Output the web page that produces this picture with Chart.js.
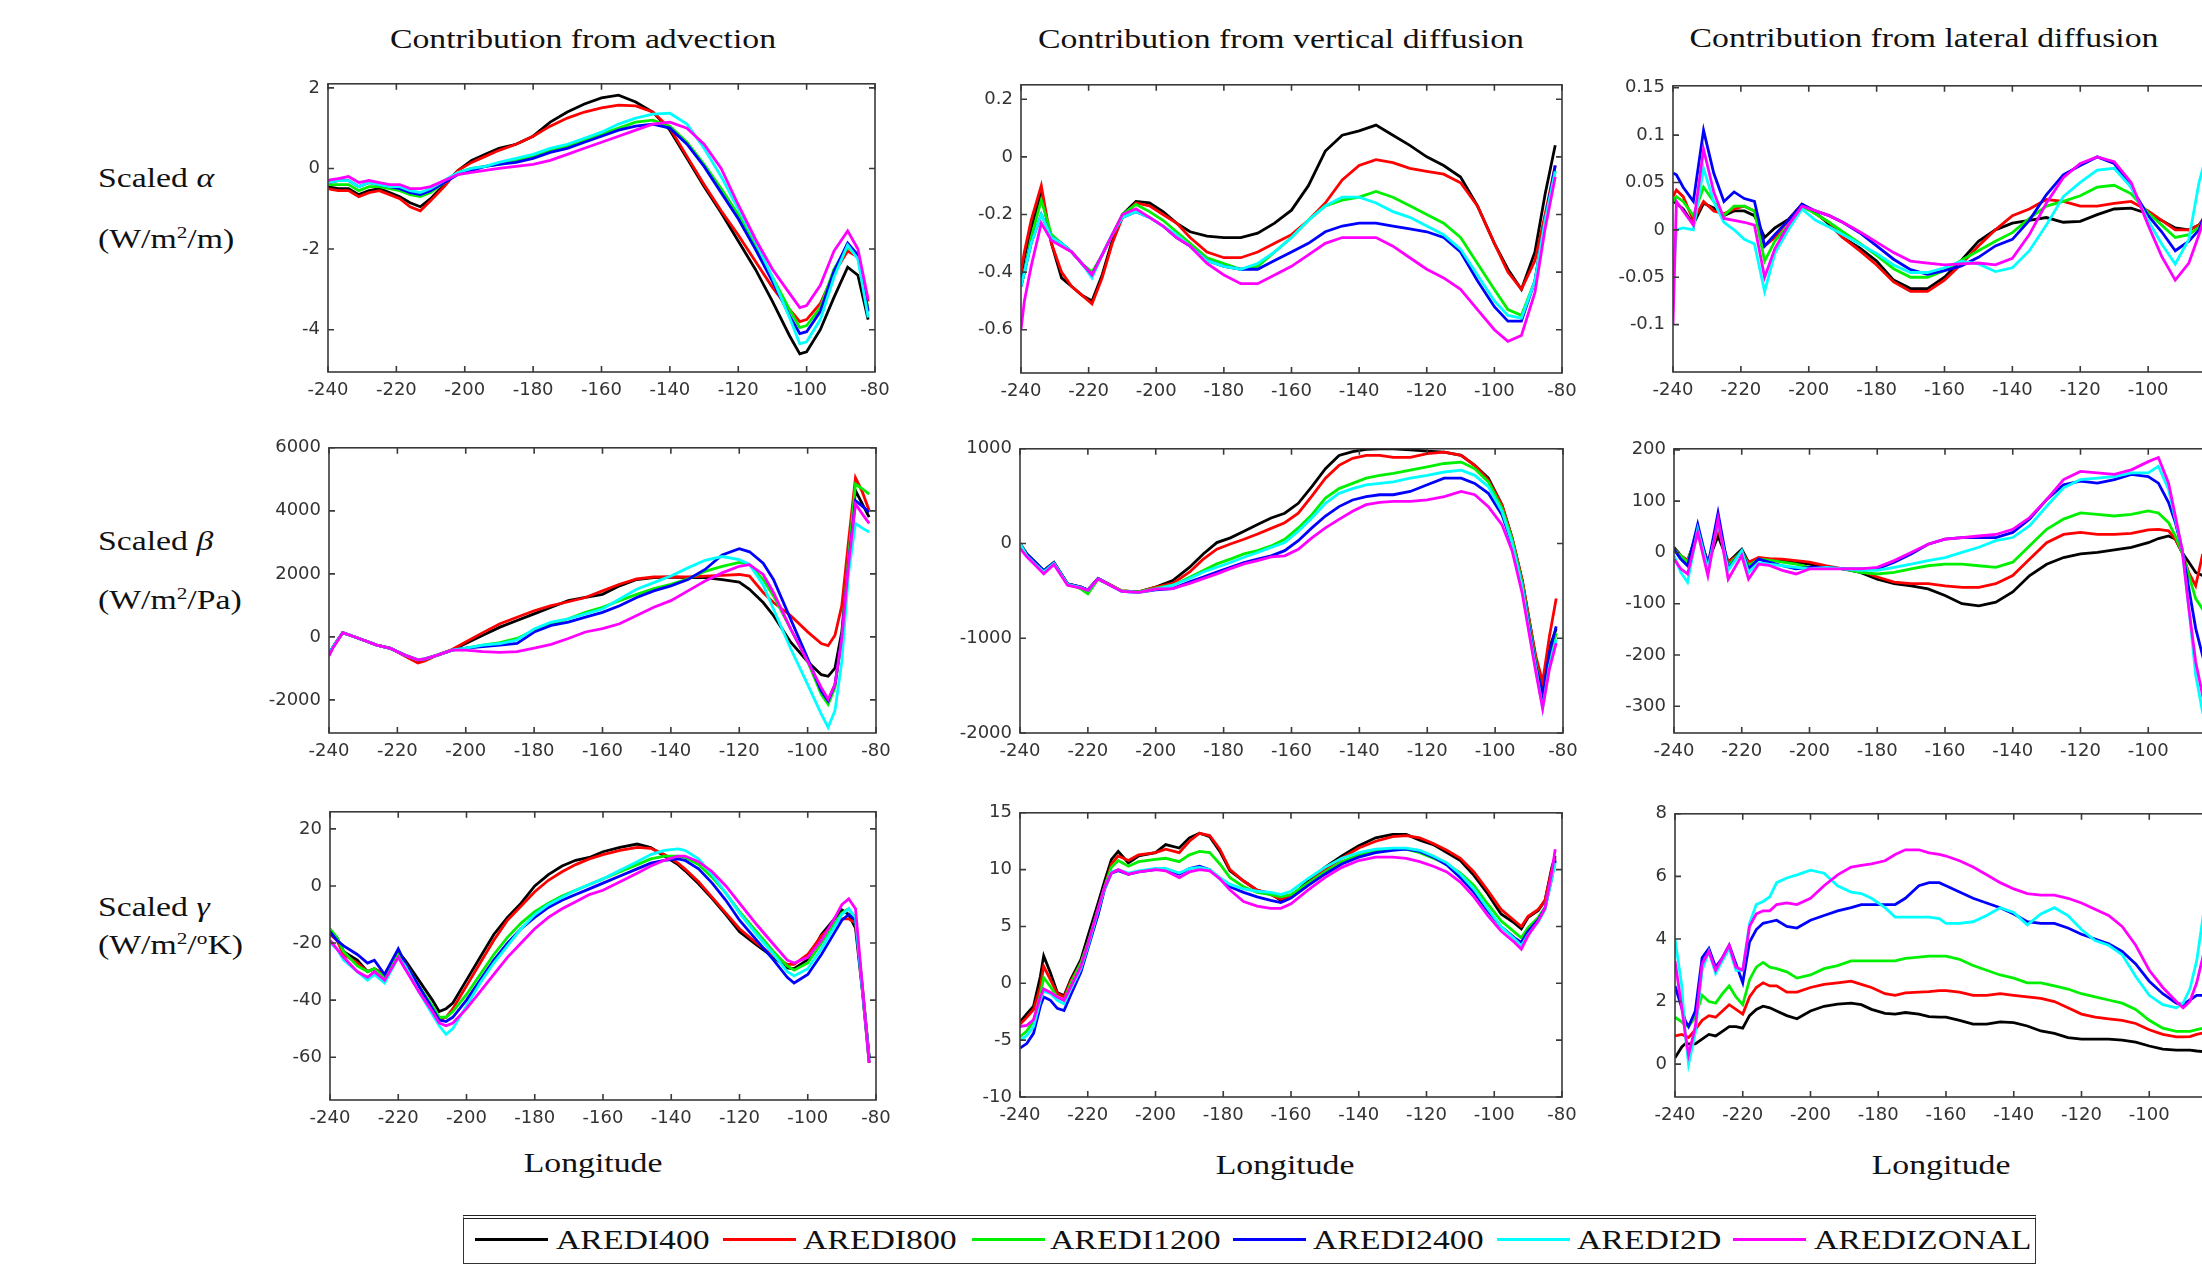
<!DOCTYPE html>
<html><head><meta charset="utf-8">
<script src="https://cdn.jsdelivr.net/npm/chart.js@4.4.1/dist/chart.umd.min.js"></script>
<style>
html,body{margin:0;padding:0;background:#fff;overflow:hidden;}
#root{position:relative;width:2202px;height:1265px;overflow:hidden;background:#fff;}
canvas{position:absolute;}
.t{position:absolute;font-family:"Liberation Serif","Times New Roman",serif;font-size:27px;color:#111;white-space:nowrap;line-height:1;}
.c{transform:translate(-50%,-50%) scaleX(1.25);}
.l{transform-origin:0 50%;transform:translateY(-50%) scaleX(1.25);}
sup{font-size:17px;vertical-align:10px;line-height:0;}
#legend{position:absolute;left:463px;top:1215px;width:1571px;height:44px;border:1.5px solid #333;border-top:4px double #222;background:#fff;}
.sw{position:absolute;height:3px;}
</style></head><body><div id="root"></div>
<script>
// ---------------- DATA ----------------
const seriesNames = ['AREDI400','AREDI800','AREDI1200','AREDI2400','AREDI2D','AREDIZONAL'];
const seriesColors = ['#000000','#ff0000','#00f000','#0000ff','#00ffff','#ff00ff'];
const xTicks = [-240,-220,-200,-180,-160,-140,-120,-100,-80];

// Panel 1: advection, scaled alpha
const lon_advAlpha = [-240,-239,-237,-234,-231,-228,-225,-222,-219,-216,-213,-210,-206,-202,-198,-194,-190,-185,-180,-175,-170,-165,-160,-155,-150,-145,-140,-135,-130,-125,-120,-115,-110,-105,-102,-100,-96,-92,-88,-85,-82];
const advAlpha_400 = [-0.45,-0.47,-0.5,-0.5,-0.65,-0.55,-0.5,-0.6,-0.7,-0.85,-0.95,-0.75,-0.4,-0.05,0.2,0.35,0.5,0.6,0.8,1.15,1.4,1.6,1.75,1.82,1.65,1.4,0.95,0.25,-0.45,-1.1,-1.8,-2.5,-3.3,-4.15,-4.6,-4.55,-4.0,-3.2,-2.45,-2.65,-3.75];
const advAlpha_800 = [-0.5,-0.52,-0.55,-0.55,-0.7,-0.6,-0.55,-0.65,-0.75,-0.95,-1.05,-0.8,-0.45,-0.05,0.15,0.3,0.45,0.6,0.8,1.05,1.25,1.4,1.5,1.57,1.55,1.4,1.0,0.3,-0.4,-1.05,-1.65,-2.3,-2.95,-3.5,-3.8,-3.75,-3.35,-2.6,-2.05,-2.2,-3.3];
const advAlpha_1200 = [-0.4,-0.4,-0.4,-0.4,-0.55,-0.45,-0.45,-0.5,-0.55,-0.65,-0.7,-0.6,-0.35,-0.1,0.0,0.05,0.1,0.2,0.3,0.45,0.55,0.7,0.85,1.0,1.15,1.2,1.05,0.65,0.1,-0.5,-1.15,-1.9,-2.7,-3.5,-3.95,-3.9,-3.45,-2.5,-1.95,-2.2,-3.5];
const advAlpha_2400 = [-0.35,-0.33,-0.3,-0.3,-0.45,-0.35,-0.4,-0.45,-0.5,-0.6,-0.65,-0.55,-0.35,-0.15,-0.05,0.05,0.1,0.15,0.25,0.4,0.5,0.65,0.8,0.95,1.05,1.1,1.0,0.6,0.05,-0.6,-1.25,-2.0,-2.8,-3.65,-4.1,-4.05,-3.55,-2.55,-1.85,-2.15,-3.55];
const advAlpha_2D = [-0.35,-0.33,-0.3,-0.3,-0.45,-0.35,-0.4,-0.45,-0.45,-0.55,-0.6,-0.5,-0.3,-0.1,0.0,0.05,0.15,0.25,0.35,0.5,0.6,0.75,0.9,1.1,1.25,1.35,1.37,1.1,0.5,-0.2,-1.0,-1.8,-2.7,-3.7,-4.35,-4.3,-3.75,-2.7,-1.9,-2.25,-3.7];
const advAlpha_ZON = [-0.3,-0.28,-0.25,-0.2,-0.35,-0.3,-0.35,-0.4,-0.4,-0.5,-0.5,-0.45,-0.3,-0.15,-0.1,-0.05,0.0,0.05,0.1,0.2,0.35,0.5,0.65,0.8,0.95,1.1,1.15,1.0,0.6,0.0,-0.9,-1.75,-2.5,-3.1,-3.45,-3.4,-2.9,-2.05,-1.55,-2.0,-3.25];

// Panel 2: vertical diffusion, scaled alpha
const lon_vdfAlpha = [-240,-239,-237,-234,-231,-228,-225,-222,-219,-216,-213,-210,-206,-202,-198,-194,-190,-185,-180,-175,-170,-165,-160,-155,-150,-145,-140,-135,-130,-125,-120,-115,-110,-105,-100,-96,-92,-88,-85,-82];
const vdfAlpha_400 = [-0.42,-0.35,-0.25,-0.12,-0.3,-0.42,-0.45,-0.48,-0.5,-0.41,-0.29,-0.2,-0.155,-0.16,-0.19,-0.23,-0.26,-0.275,-0.28,-0.28,-0.265,-0.23,-0.185,-0.1,0.02,0.075,0.09,0.11,0.075,0.04,0.0,-0.03,-0.07,-0.17,-0.3,-0.39,-0.46,-0.33,-0.13,0.04];
const vdfAlpha_800 = [-0.4,-0.33,-0.22,-0.1,-0.3,-0.4,-0.45,-0.48,-0.51,-0.42,-0.3,-0.21,-0.16,-0.17,-0.2,-0.23,-0.28,-0.33,-0.35,-0.35,-0.33,-0.3,-0.27,-0.22,-0.16,-0.08,-0.03,-0.01,-0.02,-0.04,-0.05,-0.06,-0.09,-0.17,-0.3,-0.4,-0.46,-0.36,-0.2,-0.03];
const vdfAlpha_1200 = [-0.45,-0.4,-0.28,-0.15,-0.27,-0.3,-0.33,-0.37,-0.4,-0.34,-0.27,-0.2,-0.165,-0.19,-0.22,-0.26,-0.3,-0.35,-0.37,-0.39,-0.38,-0.33,-0.28,-0.22,-0.17,-0.15,-0.14,-0.12,-0.14,-0.17,-0.2,-0.23,-0.28,-0.37,-0.46,-0.53,-0.55,-0.43,-0.22,-0.05];
const vdfAlpha_2400 = [-0.45,-0.4,-0.3,-0.2,-0.28,-0.3,-0.33,-0.37,-0.41,-0.34,-0.27,-0.21,-0.19,-0.21,-0.24,-0.28,-0.31,-0.36,-0.38,-0.39,-0.39,-0.36,-0.33,-0.3,-0.26,-0.24,-0.23,-0.23,-0.24,-0.25,-0.26,-0.28,-0.33,-0.43,-0.52,-0.57,-0.57,-0.43,-0.22,-0.03];
const vdfAlpha_2D = [-0.45,-0.4,-0.3,-0.2,-0.28,-0.3,-0.33,-0.37,-0.42,-0.34,-0.27,-0.21,-0.19,-0.21,-0.24,-0.27,-0.31,-0.36,-0.38,-0.39,-0.37,-0.33,-0.28,-0.22,-0.17,-0.14,-0.14,-0.16,-0.19,-0.21,-0.24,-0.27,-0.32,-0.41,-0.5,-0.55,-0.56,-0.43,-0.22,-0.05];
const vdfAlpha_ZON = [-0.6,-0.5,-0.38,-0.23,-0.29,-0.31,-0.33,-0.37,-0.41,-0.34,-0.27,-0.2,-0.18,-0.21,-0.24,-0.28,-0.31,-0.37,-0.41,-0.44,-0.44,-0.41,-0.38,-0.34,-0.3,-0.28,-0.28,-0.28,-0.31,-0.35,-0.39,-0.42,-0.46,-0.53,-0.6,-0.64,-0.62,-0.47,-0.25,-0.07];

// Panel 3: lateral diffusion, scaled alpha
const lon_ldfAlpha = [-240,-239,-237,-234,-231,-228,-225,-222,-219,-216,-213,-210,-206,-202,-198,-194,-190,-185,-180,-175,-170,-165,-160,-155,-150,-145,-140,-135,-130,-125,-120,-115,-110,-105,-100,-96,-92,-88,-85,-82];
const ldfAlpha_400 = [0.03,0.028,0.022,0.006,0.028,0.023,0.015,0.02,0.02,0.015,-0.008,0.002,0.011,0.027,0.018,0.006,-0.008,-0.019,-0.033,-0.053,-0.062,-0.062,-0.05,-0.032,-0.012,0.0,0.007,0.01,0.013,0.008,0.009,0.016,0.022,0.023,0.017,0.01,0.002,0.0,0.005,0.02];
const ldfAlpha_800 = [0.035,0.042,0.035,0.01,0.03,0.02,0.017,0.022,0.025,0.02,-0.017,-0.008,0.01,0.027,0.017,0.008,-0.008,-0.022,-0.037,-0.055,-0.065,-0.065,-0.053,-0.036,-0.017,0.0,0.015,0.022,0.032,0.03,0.025,0.025,0.028,0.03,0.02,0.01,0.0,0.0,0.005,0.02];
const ldfAlpha_1200 = [0.03,0.035,0.03,0.015,0.045,0.03,0.015,0.025,0.025,0.02,-0.033,-0.012,0.005,0.025,0.017,0.008,-0.002,-0.014,-0.027,-0.041,-0.05,-0.05,-0.043,-0.032,-0.022,-0.012,-0.003,0.012,0.025,0.03,0.036,0.045,0.047,0.038,0.018,0.005,-0.008,-0.005,0.003,0.02];
const ldfAlpha_2400 = [0.06,0.058,0.045,0.03,0.105,0.06,0.03,0.04,0.033,0.03,-0.017,-0.005,0.01,0.027,0.02,0.015,0.008,-0.003,-0.017,-0.031,-0.042,-0.047,-0.043,-0.038,-0.029,-0.017,-0.01,0.01,0.037,0.058,0.068,0.077,0.07,0.045,0.015,-0.002,-0.022,-0.012,0.0,0.03];
const ldfAlpha_2D = [-0.055,0.0,0.002,0.0,0.065,0.03,0.008,0.0,-0.01,-0.015,-0.065,-0.025,0.0,0.022,0.01,0.003,-0.005,-0.015,-0.025,-0.037,-0.045,-0.045,-0.04,-0.033,-0.036,-0.044,-0.04,-0.022,0.005,0.035,0.05,0.063,0.065,0.045,0.01,-0.015,-0.036,-0.01,0.05,0.09];
const ldfAlpha_ZON = [-0.1,0.03,0.02,0.005,0.085,0.04,0.012,0.01,0.008,0.005,-0.05,-0.02,0.005,0.025,0.02,0.015,0.008,-0.002,-0.013,-0.024,-0.033,-0.035,-0.037,-0.036,-0.035,-0.037,-0.03,-0.005,0.028,0.055,0.07,0.077,0.072,0.05,0.005,-0.028,-0.053,-0.035,-0.005,0.03];

// Panel 4: advection, scaled beta
const lon_advBeta = [-240,-239,-236,-233,-230,-226,-222,-218,-214,-212,-208,-204,-200,-195,-190,-185,-180,-175,-170,-165,-160,-155,-150,-145,-140,-135,-130,-125,-120,-117,-113,-110,-105,-100,-96,-94,-92,-90,-88,-86,-84,-82];
const advBeta_400 = [-570,-350,130,20,-100,-260,-365,-570,-750,-720,-570,-420,-210,50,310,520,730,940,1150,1250,1350,1620,1820,1880,1900,1880,1880,1820,1740,1510,1090,680,-160,-780,-1200,-1250,-990,160,2550,4640,4220,3800];
const advBeta_800 = [-570,-350,130,20,-100,-260,-365,-600,-830,-760,-560,-400,-160,135,415,625,830,990,1115,1250,1460,1670,1840,1900,1900,1900,1930,1950,1980,1930,1410,1090,680,160,-210,-280,50,990,3070,5050,4600,4010];
const advBeta_1200 = [-570,-350,130,20,-100,-260,-365,-570,-730,-700,-570,-420,-360,-260,-180,-50,210,415,575,780,940,1150,1350,1530,1670,1840,2080,2240,2365,2290,1820,1300,260,-780,-1820,-2140,-1610,-50,2550,4850,4700,4530];
const advBeta_2400 = [-570,-350,130,20,-100,-260,-365,-570,-730,-700,-570,-420,-360,-310,-260,-210,155,365,470,625,780,990,1250,1460,1620,1820,2140,2600,2800,2700,2340,1820,570,-680,-1720,-2030,-1510,-50,2340,4320,4150,3960];
const advBeta_2D = [-570,-350,130,20,-100,-260,-365,-570,-730,-700,-570,-420,-360,-260,-210,-100,250,470,575,730,885,1200,1510,1720,1930,2190,2430,2550,2450,2300,1650,885,-360,-1510,-2450,-2870,-2340,-780,2030,3600,3450,3330];
const advBeta_ZON = [-600,-380,130,20,-100,-260,-365,-570,-730,-700,-570,-420,-420,-470,-490,-470,-360,-240,-50,155,260,415,680,940,1150,1460,1770,2030,2240,2290,1980,1410,260,-780,-1610,-1980,-1510,-50,2340,4220,3900,3600];

// Panel 5: vertical diffusion, scaled beta
const lon_vdfBeta = [-240,-238,-236,-233,-230,-226,-222,-220,-217,-214,-210,-205,-200,-195,-190,-186,-182,-178,-174,-170,-166,-162,-158,-154,-150,-146,-142,-138,-134,-130,-125,-120,-115,-110,-106,-102,-98,-95,-92,-90,-88,-86,-84,-82];
const vdfBeta_400 = [0,-110,-180,-285,-200,-425,-460,-490,-370,-425,-500,-510,-460,-390,-250,-110,10,60,130,200,270,320,425,600,790,930,970,995,1000,1000,990,975,965,930,825,690,410,60,-390,-800,-1220,-1550,-1100,-900];
const vdfBeta_800 = [0,-110,-180,-285,-200,-425,-460,-490,-370,-425,-500,-510,-460,-420,-300,-165,-60,-5,45,100,160,220,320,500,690,825,900,930,930,910,910,950,965,930,825,670,410,60,-390,-800,-1190,-1460,-980,-580];
const vdfBeta_1200 = [0,-110,-180,-285,-200,-425,-480,-530,-380,-430,-500,-510,-470,-440,-355,-285,-215,-165,-110,-75,-25,45,165,305,480,580,635,690,720,740,775,810,845,860,790,650,375,45,-425,-840,-1255,-1640,-1220,-945];
const vdfBeta_2400 = [0,-110,-180,-285,-200,-425,-460,-490,-370,-430,-505,-515,-490,-475,-405,-355,-300,-250,-200,-165,-130,-75,30,165,290,390,460,495,515,515,550,620,690,690,635,530,305,-5,-460,-875,-1290,-1600,-1150,-875];
const vdfBeta_2D = [0,-130,-200,-300,-210,-430,-465,-495,-375,-430,-505,-515,-480,-440,-370,-300,-250,-200,-145,-95,-40,10,130,270,425,530,580,620,635,650,690,720,755,775,720,600,340,10,-460,-910,-1325,-1740,-1290,-1010];
const vdfBeta_ZON = [-50,-140,-210,-320,-220,-440,-470,-495,-375,-430,-505,-515,-480,-475,-420,-370,-320,-265,-215,-180,-140,-130,-60,60,165,255,340,410,435,445,445,460,495,550,515,390,200,-75,-530,-945,-1360,-1740,-1325,-1050];

// Panel 6: lateral diffusion, scaled beta
const lon_ldfBeta = [-240,-238,-236,-233,-230,-227,-224,-220,-218,-215,-212,-208,-204,-200,-195,-190,-185,-180,-175,-170,-165,-160,-155,-150,-145,-140,-135,-130,-125,-120,-115,-110,-105,-100,-97,-94,-92,-90,-88,-86,-84,-82];
const ldfBeta_400 = [10,-6,-16,39,-19,32,-19,6,-19,-13,-13,-16,-19,-23,-29,-32,-39,-52,-61,-65,-71,-84,-100,-104,-97,-77,-45,-23,-10,-3,0,5,10,19,27,32,26,0,-19,-39,-45,-40];
const ldfBeta_800 = [6,-6,-16,39,-19,45,-19,0,-19,-10,-12,-13,-16,-19,-26,-32,-35,-48,-58,-61,-61,-65,-68,-68,-61,-45,-13,19,35,39,35,35,37,44,45,42,26,0,-40,-65,-5,10];
const ldfBeta_1200 = [6,-6,-19,45,-26,58,-26,3,-26,-13,-15,-19,-23,-29,-29,-32,-39,-42,-39,-32,-26,-23,-23,-26,-29,-19,13,45,65,77,74,71,74,81,77,58,32,0,-45,-90,-110,-103];
const ldfBeta_2400 = [6,-13,-26,55,-26,77,-32,3,-32,-13,-19,-26,-32,-29,-29,-32,-32,-32,-19,-3,16,26,29,29,29,39,65,103,132,139,135,142,152,148,135,97,58,6,-71,-148,-200,-161];
const ldfBeta_2D = [-6,-39,-58,45,-32,58,-35,3,-39,-20,-23,-26,-29,-32,-29,-32,-35,-35,-29,-23,-16,-10,0,10,23,29,52,90,126,142,145,148,155,155,168,123,65,6,-110,-239,-310,-297];
const ldfBeta_ZON = [-13,-32,-42,39,-45,65,-52,-6,-52,-23,-25,-35,-42,-32,-32,-32,-32,-29,-16,0,16,26,29,32,35,45,68,103,142,158,155,152,161,177,185,135,71,6,-110,-213,-277,-258];

// Panel 7: advection, scaled gamma
const lon_advGamma = [-240,-238,-236,-232,-229,-227,-224,-220,-218,-214,-210,-208,-206,-204,-200,-196,-192,-188,-184,-180,-176,-172,-168,-164,-160,-155,-150,-146,-142,-138,-136,-132,-128,-124,-120,-115,-110,-106,-104,-100,-96,-92,-90,-88,-86,-84,-82];
const advGamma_400 = [-16,-18,-23,-26,-30,-29,-31,-23,-26,-33,-40,-44,-43,-41,-33,-25,-17,-11,-6,0,4,7,9,10,12,13.5,14.7,13.5,10.5,7.5,5.4,0.8,-4.4,-10,-16,-20.6,-25,-28.7,-29,-25.8,-17,-11.3,-8.4,-10,-14.8,-36.8,-62];
const advGamma_800 = [-17,-19,-24,-27,-30,-29,-31,-24,-27,-35,-43,-47,-46,-43,-35,-27,-19,-12,-7,-2,2,5,7.5,9.5,11,12.5,13.5,13.2,11,8,6,1.5,-4,-9.5,-15,-20,-24.5,-27.5,-27.5,-24,-17.5,-13,-11.5,-11.5,-13,-35,-60];
const advGamma_1200 = [-15,-18,-23,-28,-30,-29,-32,-24,-27,-35,-42,-46,-46,-44,-38,-31,-24,-18,-13,-9,-6,-3.5,-1.5,0.5,2.5,5,7.5,9.5,10.5,10.5,10,7.5,3,-2.5,-9,-16,-23,-28,-29.5,-27,-20,-13,-9.5,-8,-12,-36,-60];
const advGamma_2400 = [-16,-19,-21,-24,-27,-26,-31,-22,-27,-35,-43,-47,-47.5,-46,-40,-33,-26,-20,-15,-11,-7.5,-5,-3,-1,1,3.5,6,8,9,9.5,9,6,1,-5,-12,-19,-26,-32,-34,-31,-24,-16,-12,-10,-12,-36,-60];
const advGamma_2D = [-20,-22,-26,-30,-33,-31,-34,-25,-28,-37,-45,-49,-52,-50,-42,-34,-27,-21,-15,-10,-6.5,-4,-1.5,0.5,2.5,5.5,8.5,11,12.5,13,12.5,9.5,4,-2.5,-9.5,-17,-24,-30,-31.5,-29,-22,-14,-10,-8,-11,-36,-61];
const advGamma_ZON = [-19,-22,-25,-30,-32,-30,-33,-25,-29,-37,-44,-48,-49,-48,-43,-37,-31,-25,-20,-15,-11,-8,-5.5,-3,-1.5,1.5,4.5,7,9,10.5,10.5,8.5,5,0,-6,-13.5,-20.5,-26,-27,-25,-19,-11,-6.5,-4.5,-8,-35,-62];

// Panel 8: vertical diffusion, scaled gamma
const lon_vdfGamma = [-240,-238,-236,-234,-233,-231,-229,-227,-225,-222,-220,-217,-215,-213,-211,-208,-205,-200,-197,-193,-190,-187,-184,-181,-178,-174,-170,-166,-163,-160,-155,-150,-145,-140,-135,-130,-126,-122,-118,-114,-110,-106,-102,-98,-94,-92,-90,-87,-85,-83,-82];
const vdfGamma_400 = [-3.4,-2.7,-2.0,0.6,2.4,0.9,-0.8,-1.1,0.35,2.1,4.1,7.0,9.0,10.9,11.6,10.6,11.2,11.5,12.2,11.9,12.8,13.2,12.9,11.6,9.9,9.0,8.2,7.9,7.3,7.6,9.0,10.2,11.2,12.1,12.8,13.1,13.1,12.6,12.2,11.5,10.8,9.5,7.9,6.1,5.3,4.8,5.8,6.4,7.3,10.2,11.2];
const vdfGamma_800 = [-3.6,-3.0,-2.3,-0.3,1.5,0.3,-0.9,-1.2,0.2,1.8,3.5,6.0,8.5,10.5,11.2,10.8,11.3,11.5,11.8,11.5,12.5,13.2,13.0,11.8,10.0,9.0,8.2,7.8,7.4,7.7,8.8,10.0,11.0,11.9,12.5,12.9,13.0,12.8,12.3,11.7,11.0,9.8,8.2,6.5,5.5,5.0,5.9,6.5,7.3,10.0,11.0];
const vdfGamma_1200 = [-4.7,-4.2,-3.3,-1.0,0.5,-0.3,-1.2,-1.5,0.0,1.8,3.5,6.5,8.5,10.2,10.8,10.3,10.7,10.9,11.0,10.7,11.3,11.6,11.5,10.5,9.3,8.5,8.0,7.8,7.6,7.8,8.8,9.8,10.7,11.3,11.7,11.8,11.8,11.5,11.0,10.5,9.7,8.6,7.0,5.5,4.5,4.0,4.9,5.8,6.7,9.5,10.8];
const vdfGamma_2400 = [-5.7,-5.3,-4.4,-2.0,-1.2,-1.5,-2.2,-2.4,-1.0,1.0,3.0,6.0,8.3,9.7,9.9,9.6,9.8,10.0,10.0,9.6,10.1,10.3,10.0,9.2,8.5,8.0,7.6,7.3,7.1,7.5,8.6,9.6,10.5,11.1,11.5,11.7,11.8,11.6,11.1,10.4,9.3,8.0,6.4,5.0,4.0,3.6,4.6,5.6,6.6,9.3,10.8];
const vdfGamma_2D = [-5.0,-4.6,-3.8,-1.5,-0.7,-0.9,-1.5,-1.8,-0.5,1.3,3.2,6.3,8.4,9.8,10.0,9.7,9.9,10.1,10.1,9.7,10.1,10.2,10.0,9.3,8.7,8.3,8.1,8.0,7.8,8.1,9.2,10.2,11.0,11.5,11.8,11.9,11.9,11.7,11.2,10.6,9.6,8.3,6.6,5.0,3.9,3.3,4.3,5.4,6.5,9.3,10.6];
const vdfGamma_ZON = [-3.8,-3.7,-3.2,-1.2,-0.5,-0.8,-1.2,-1.5,-0.3,1.5,3.4,6.5,8.5,9.7,10.0,9.6,9.8,10.0,9.9,9.3,9.8,10.0,9.9,9.2,8.2,7.2,6.8,6.6,6.6,7.0,8.2,9.3,10.2,10.8,11.1,11.1,11.0,10.7,10.3,9.8,8.9,7.6,6.0,4.6,3.6,3.0,4.2,5.5,6.6,9.8,11.8];

// Panel 9: lateral diffusion, scaled gamma
const lon_ldfGamma = [-240,-238,-237,-236,-234,-232,-230,-228,-226,-224,-222,-220,-218,-216,-214,-212,-210,-207,-204,-200,-196,-192,-188,-185,-182,-178,-175,-172,-168,-165,-162,-160,-156,-152,-148,-144,-140,-136,-132,-128,-124,-120,-116,-112,-108,-104,-100,-96,-92,-90,-88,-86,-84,-82];
const ldfGamma_400 = [0.2,0.55,0.65,0.65,0.65,0.8,0.95,0.9,1.05,1.2,1.2,1.15,1.55,1.75,1.85,1.8,1.7,1.55,1.45,1.7,1.85,1.92,1.95,1.9,1.75,1.62,1.6,1.65,1.6,1.52,1.5,1.5,1.4,1.28,1.28,1.35,1.33,1.22,1.06,0.98,0.85,0.8,0.8,0.8,0.77,0.7,0.58,0.48,0.45,0.45,0.45,0.42,0.4,0.38];
const ldfGamma_800 = [0.9,0.95,0.9,0.85,1.1,1.4,1.55,1.5,1.7,1.9,1.75,1.6,2.15,2.45,2.6,2.5,2.5,2.3,2.3,2.45,2.55,2.6,2.65,2.55,2.45,2.25,2.2,2.28,2.3,2.32,2.35,2.35,2.3,2.2,2.2,2.25,2.2,2.15,2.1,2.0,1.8,1.6,1.5,1.45,1.4,1.3,1.1,0.95,0.87,0.87,0.88,0.95,1.0,1.0];
const ldfGamma_1200 = [1.5,1.35,1.25,1.2,1.5,2.2,2.0,1.95,2.25,2.5,2.15,1.9,2.7,3.1,3.25,3.1,3.05,2.95,2.75,2.85,3.05,3.15,3.3,3.3,3.3,3.3,3.3,3.38,3.42,3.45,3.45,3.45,3.35,3.15,3.0,2.85,2.75,2.6,2.6,2.5,2.4,2.25,2.15,2.05,1.95,1.75,1.4,1.15,1.05,1.05,1.05,1.1,1.15,1.1];
const ldfGamma_2400 = [2.5,1.8,1.4,1.2,1.7,3.4,3.7,3.1,3.4,3.8,3.2,2.6,3.9,4.3,4.5,4.55,4.6,4.4,4.35,4.6,4.75,4.9,5.0,5.1,5.1,5.1,5.1,5.3,5.7,5.8,5.8,5.7,5.5,5.3,5.15,5.0,4.8,4.55,4.5,4.5,4.35,4.15,4.0,3.85,3.6,3.2,2.65,2.25,1.95,1.9,2.05,2.2,2.2,2.3];
const ldfGamma_2D = [4.0,2.5,1.0,0.0,1.0,3.0,3.6,2.9,3.3,3.7,3.0,3.0,4.5,5.1,5.2,5.35,5.8,5.95,6.05,6.2,6.1,5.7,5.5,5.45,5.3,5.0,4.7,4.7,4.7,4.7,4.65,4.5,4.5,4.55,4.75,5.0,4.85,4.45,4.8,5.0,4.75,4.3,3.95,3.8,3.5,2.8,2.2,1.9,1.8,1.95,2.4,3.3,4.8,6.0];
const ldfGamma_ZON = [3.3,1.8,1.0,0.3,1.2,3.2,3.6,3.0,3.4,3.8,3.1,3.0,4.4,4.8,4.9,4.9,5.1,5.15,5.1,5.3,5.7,6.05,6.3,6.35,6.4,6.5,6.7,6.85,6.85,6.75,6.7,6.65,6.5,6.3,6.05,5.8,5.6,5.45,5.4,5.4,5.3,5.15,4.95,4.75,4.4,3.8,3.0,2.45,2.0,1.8,2.0,2.6,3.5,4.5];

// y-axis tick values per panel
const yTicks_advAlpha = [-4,-2,0,2];
const yTicks_vdfAlpha = [-0.6,-0.4,-0.2,0,0.2];
const yTicks_ldfAlpha = [-0.1,-0.05,0,0.05,0.1,0.15];
const yTicks_advBeta = [-2000,0,2000,4000,6000];
const yTicks_vdfBeta = [-2000,-1000,0,1000];
const yTicks_ldfBeta = [-300,-200,-100,0,100,200];
const yTicks_advGamma = [-60,-40,-20,0,20];
const yTicks_vdfGamma = [-10,-5,0,5,10,15];
const yTicks_ldfGamma = [0,2,4,6,8];

// ---------------- LAYOUT ----------------
const root = document.getElementById('root');
const panels = [
  {lon:lon_advAlpha, s:[advAlpha_400,advAlpha_800,advAlpha_1200,advAlpha_2400,advAlpha_2D,advAlpha_ZON], yt:yTicks_advAlpha, ymin:-5.05, ymax:2.1, f:[328,80,875,372]},
  {lon:lon_vdfAlpha, s:[vdfAlpha_400,vdfAlpha_800,vdfAlpha_1200,vdfAlpha_2400,vdfAlpha_2D,vdfAlpha_ZON], yt:yTicks_vdfAlpha, ymin:-0.75, ymax:0.25, f:[1021,81,1562,373]},
  {lon:lon_ldfAlpha, s:[ldfAlpha_400,ldfAlpha_800,ldfAlpha_1200,ldfAlpha_2400,ldfAlpha_2D,ldfAlpha_ZON], yt:yTicks_ldfAlpha, ymin:-0.15, ymax:0.152, f:[1673,82,2216,372]},
  {lon:lon_advBeta, s:[advBeta_400,advBeta_800,advBeta_1200,advBeta_2400,advBeta_2D,advBeta_ZON], yt:yTicks_advBeta, ymin:-3050, ymax:6000, f:[329,444,876,733]},
  {lon:lon_vdfBeta, s:[vdfBeta_400,vdfBeta_800,vdfBeta_1200,vdfBeta_2400,vdfBeta_2D,vdfBeta_ZON], yt:yTicks_vdfBeta, ymin:-2000, ymax:1000, f:[1020,445,1563,733]},
  {lon:lon_ldfBeta, s:[ldfBeta_400,ldfBeta_800,ldfBeta_1200,ldfBeta_2400,ldfBeta_2D,ldfBeta_ZON], yt:yTicks_ldfBeta, ymin:-352, ymax:202, f:[1674,445,2216,733]},
  {lon:lon_advGamma, s:[advGamma_400,advGamma_800,advGamma_1200,advGamma_2400,advGamma_2D,advGamma_ZON], yt:yTicks_advGamma, ymin:-75, ymax:26, f:[330,808,876,1100]},
  {lon:lon_vdfGamma, s:[vdfGamma_400,vdfGamma_800,vdfGamma_1200,vdfGamma_2400,vdfGamma_2D,vdfGamma_ZON], yt:yTicks_vdfGamma, ymin:-10, ymax:15, f:[1020,809,1562,1097]},
  {lon:lon_ldfGamma, s:[ldfGamma_400,ldfGamma_800,ldfGamma_1200,ldfGamma_2400,ldfGamma_2D,ldfGamma_ZON], yt:yTicks_ldfGamma, ymin:-1.05, ymax:8, f:[1675,810,2217,1097]}
];

const framePlugin = {
  id:'frame',
  afterDraw(chart){
    const {ctx, chartArea:a, scales:{x,y}} = chart;
    ctx.save();
    ctx.strokeStyle='#3a3a3a'; ctx.lineWidth=1.6;
    ctx.strokeRect(a.left, a.top, a.right-a.left, a.bottom-a.top);
    ctx.beginPath();
    x.ticks.forEach(t=>{const px=x.getPixelForValue(t.value); ctx.moveTo(px,a.bottom); ctx.lineTo(px,a.bottom-6); ctx.moveTo(px,a.top); ctx.lineTo(px,a.top+6);});
    y.ticks.forEach(t=>{const py=y.getPixelForValue(t.value); ctx.moveTo(a.left,py); ctx.lineTo(a.left+6,py); ctx.moveTo(a.right,py); ctx.lineTo(a.right-6,py);});
    ctx.stroke();
    ctx.restore();
  }
};

const padL=80, padT=15, padR=30, padB=40;
const tickFont = {family:'"DejaVu Sans", sans-serif', size:18};
panels.forEach(p=>{
  const c=document.createElement('canvas');
  const w=p.f[2]-p.f[0]+padL+padR, h=p.f[3]-p.f[1]+padT+padB;
  c.width=w; c.height=h;
  c.style.left=(p.f[0]-padL)+'px'; c.style.top=(p.f[1]-padT)+'px';
  c.style.width=w+'px'; c.style.height=h+'px';
  root.appendChild(c);
  new Chart(c,{
    type:'line',
    data:{datasets:p.s.map((arr,i)=>({
      label:seriesNames[i],
      data:p.lon.map((xv,k)=>({x:xv,y:arr[k]})),
      borderColor:seriesColors[i], backgroundColor:seriesColors[i],
      borderWidth:2.8, pointRadius:0, tension:0, fill:false, order:5-i
    }))},
    options:{
      responsive:false, animation:false, devicePixelRatio:1,
      layout:{padding:{top:padT,right:padR,left:0,bottom:0}},
      plugins:{legend:{display:false},tooltip:{enabled:false}},
      scales:{
        x:{type:'linear',min:-240,max:-80,
          afterBuildTicks:s=>{s.ticks=xTicks.map(v=>({value:v}));},
          afterFit:s=>{s.height=padB;},
          grid:{display:false,drawTicks:false},border:{display:false},
          ticks:{padding:8,font:tickFont,color:'#333',maxRotation:0,autoSkip:false,callback:v=>String(v)}},
        y:{type:'linear',min:p.ymin,max:p.ymax,
          afterBuildTicks:s=>{s.ticks=p.yt.map(v=>({value:v}));},
          afterFit:s=>{s.width=padL;},
          grid:{display:false,drawTicks:false},border:{display:false},
          ticks:{padding:8,font:tickFont,color:'#333',autoSkip:false,callback:v=>String(v)}}
      }
    },
    plugins:[framePlugin]
  });
});

// ---------------- TEXT ----------------
function addText(html, x, y, cls){
  const d=document.createElement('div');
  d.className='t '+cls; d.innerHTML=html;
  d.style.left=x+'px'; d.style.top=y+'px';
  root.appendChild(d);
}
addText('Contribution from advection',583,39,'c');
addText('Contribution from vertical diffusion',1281,39,'c');
addText('Contribution from lateral diffusion',1924,38,'c');
addText('Scaled <i>&alpha;</i>',98,178,'l');
addText('(W/m<sup>2</sup>/m)',98,239,'l');
addText('Scaled <i>&beta;</i>',98,541,'l');
addText('(W/m<sup>2</sup>/Pa)',98,600,'l');
addText('Scaled <i>&gamma;</i>',98,907,'l');
addText('(W/m<sup>2</sup>/<sup>o</sup>K)',98,945,'l');
addText('Longitude',593,1163,'c');
addText('Longitude',1285,1165,'c');
addText('Longitude',1941,1165,'c');

// legend
const lg=document.createElement('div'); lg.id='legend'; root.appendChild(lg);
const legendLineX=[475,723,972,1233,1497,1733];
const legendTextX=[556,803,1050,1313,1577,1814];
seriesNames.forEach((n,i)=>{
  const sw=document.createElement('div'); sw.className='sw';
  sw.style.left=(legendLineX[i])+'px'; sw.style.top='1238px'; sw.style.width='73px';
  sw.style.background=seriesColors[i];
  root.appendChild(sw);
  addText(n,legendTextX[i],1240,'l');
});
</script></body></html>
